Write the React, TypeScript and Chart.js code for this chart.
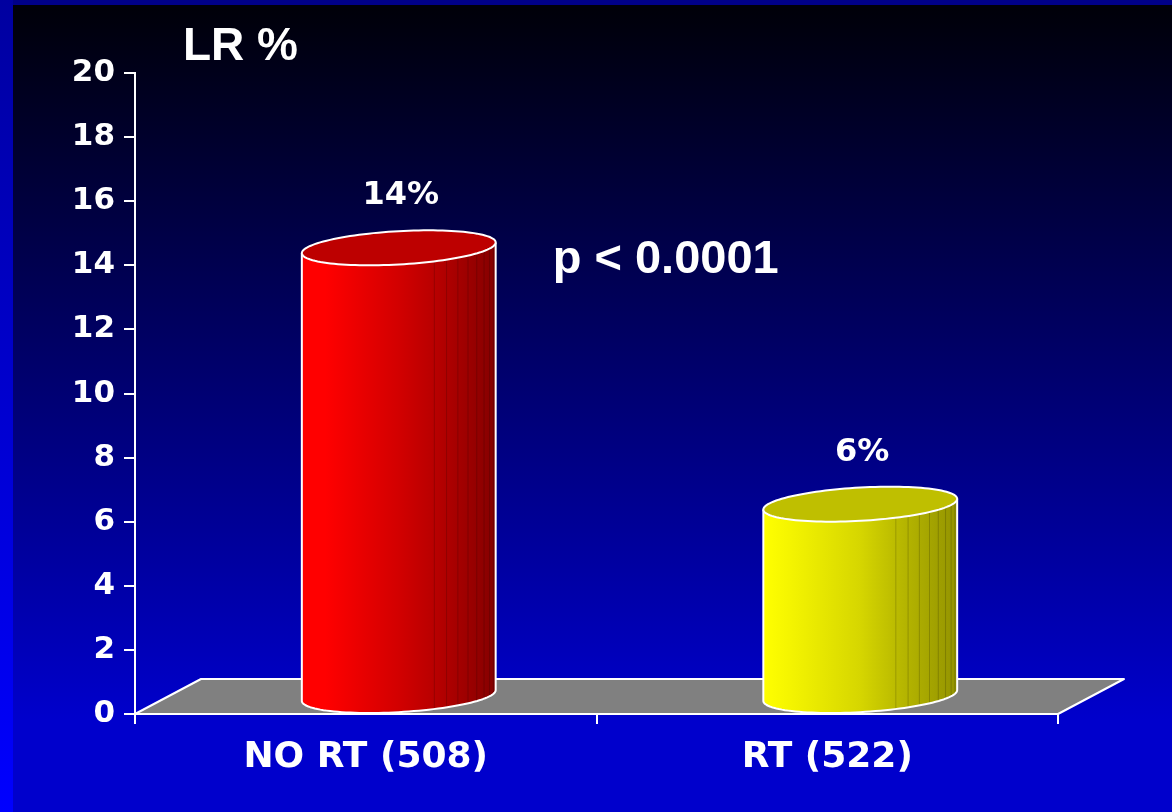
import React, { useEffect, useRef } from 'react';
import Chart from 'chart.js/auto';

// chart data
const categories = ['NO RT (508)', 'RT (522)'];
const lrValues = [14, 6];
const valueLabels = ['14%', '6%'];
const yMin = 0;
const yMax = 20;
const yStep = 2;
const axisTitle = 'LR %';
const pValueText = 'p < 0.0001';
const pValueAnchor = { index: 0.65, value: 13.76 };

// cylinder colours (left -> right shading) and lids
const bodyStops = [
  ['#ff0000', '#ff0000', '#d20000', '#b30000', '#840000'],
  ['#ffff00', '#f6f600', '#d6d600', '#b6b600', '#939300'],
];
const lidColors = ['#bd0000', '#bfbf00'];

const DEPTH_X = 66;
const DEPTH_Y = -35;

const pt = (cx: number, cy: number, R: number, Dx: number, Dy: number, t: number) =>
  [cx + R * Math.cos(t) + Dx * Math.sin(t), cy + Dy * Math.sin(t)];

const backgroundPlugin = {
  id: 'slideBackground',
  beforeDraw(chart: any) {
    const { ctx, width, height } = chart;
    ctx.save();
    const g = ctx.createLinearGradient(0, 5, 0, 720);
    g.addColorStop(0, '#000008');
    g.addColorStop(1, '#0000cc');
    ctx.fillStyle = g;
    ctx.fillRect(0, 0, width, height);
    const s = ctx.createLinearGradient(0, 0, 0, height);
    s.addColorStop(0, '#0000a0');
    s.addColorStop(1, '#0000ff');
    ctx.fillStyle = s;
    ctx.fillRect(0, 0, 13, height);
    ctx.fillStyle = '#000088';
    ctx.fillRect(13, 0, width - 13, 5);
    ctx.restore();
  },
};

const floorPlugin = {
  id: 'floor',
  beforeDatasetsDraw(chart: any) {
    const { ctx, chartArea } = chart;
    const { left, right, bottom } = chartArea;
    ctx.save();
    ctx.beginPath();
    ctx.moveTo(left, bottom);
    ctx.lineTo(right, bottom);
    ctx.lineTo(right + DEPTH_X, bottom + DEPTH_Y);
    ctx.lineTo(left + DEPTH_X, bottom + DEPTH_Y);
    ctx.closePath();
    ctx.fillStyle = '#808080';
    ctx.fill();
    ctx.strokeStyle = '#ffffff';
    ctx.lineWidth = 2;
    ctx.lineJoin = 'round';
    ctx.stroke();
    ctx.restore();
  },
};

const cylinderPlugin = {
  id: 'cylinders',
  afterDatasetsDraw(chart: any) {
    const { ctx } = chart;
    const meta = chart.getDatasetMeta(0);
    meta.data.forEach((bar: any, i: number) => {
      const { x, y, base, width } = bar.getProps(['x', 'y', 'base', 'width'], true);
      const cx = x + DEPTH_X / 2;
      const Dx = DEPTH_X * 0.45;
      const Dy = DEPTH_Y / 2;
      const half = width / 2;
      const R = Math.sqrt(half * half - Dx * Dx);
      const topY = y + Dy;
      const botY = base + Dy;
      const t0 = Math.atan2(Dx, R);
      const steps = 60;

      ctx.save();
      // body
      ctx.beginPath();
      let p = pt(cx, topY, R, Dx, Dy, t0 + Math.PI);
      ctx.moveTo(p[0], p[1]);
      for (let k = 0; k <= steps; k++) {
        const t = t0 + Math.PI + (Math.PI * k) / steps;
        p = pt(cx, botY, R, Dx, Dy, t);
        ctx.lineTo(p[0], p[1]);
      }
      for (let k = steps; k >= 0; k--) {
        const t = t0 + Math.PI + (Math.PI * k) / steps;
        p = pt(cx, topY, R, Dx, Dy, t);
        ctx.lineTo(p[0], p[1]);
      }
      ctx.closePath();
      const g = ctx.createLinearGradient(cx - half, 0, cx + half, 0);
      const stops = bodyStops[i];
      [0, 0.12, 0.5, 0.72, 1].forEach((o, j) => g.addColorStop(o, stops[j]));
      ctx.fillStyle = g;
      ctx.fill();

      // facet lines
      ctx.strokeStyle = 'rgba(0,0,0,0.18)';
      ctx.lineWidth = 1;
      for (let t = 5.4; t < t0 + 2 * Math.PI - 0.05; t += 0.14) {
        const a = pt(cx, topY, R, Dx, Dy, t);
        const b = pt(cx, botY, R, Dx, Dy, t);
        ctx.beginPath();
        ctx.moveTo(a[0], a[1]);
        ctx.lineTo(b[0], b[1]);
        ctx.stroke();
      }

      // outline of body
      ctx.strokeStyle = '#ffffff';
      ctx.lineWidth = 2;
      ctx.lineJoin = 'round';
      ctx.beginPath();
      p = pt(cx, topY, R, Dx, Dy, t0 + Math.PI);
      ctx.moveTo(p[0], p[1]);
      for (let k = 0; k <= steps; k++) {
        const t = t0 + Math.PI + (Math.PI * k) / steps;
        p = pt(cx, botY, R, Dx, Dy, t);
        ctx.lineTo(p[0], p[1]);
      }
      p = pt(cx, topY, R, Dx, Dy, t0);
      ctx.lineTo(p[0], p[1]);
      ctx.stroke();

      // lid
      ctx.beginPath();
      for (let k = 0; k <= steps * 2; k++) {
        const t = (Math.PI * k) / steps;
        p = pt(cx, topY, R, Dx, Dy, t);
        if (k === 0) ctx.moveTo(p[0], p[1]);
        else ctx.lineTo(p[0], p[1]);
      }
      ctx.closePath();
      ctx.fillStyle = lidColors[i];
      ctx.fill();
      ctx.stroke();

      // value label
      ctx.fillStyle = '#ffffff';
      ctx.font = 'bold 32px "DejaVu Sans"';
      ctx.textAlign = 'center';
      ctx.textBaseline = 'alphabetic';
      ctx.fillText(valueLabels[i], cx + 2, y - 61);
      ctx.restore();
    });
  },
};

const textPlugin = {
  id: 'slideText',
  afterDraw(chart: any) {
    const { ctx, chartArea, scales } = chart;
    ctx.save();
    ctx.fillStyle = '#ffffff';
    ctx.textBaseline = 'alphabetic';
    ctx.font = 'bold 46px Arial, "Liberation Sans", sans-serif';
    ctx.textAlign = 'left';
    ctx.fillText(axisTitle, chartArea.left + 48, chartArea.top - 13);
    ctx.font = 'bold 47px Arial, "Liberation Sans", sans-serif';
    ctx.textAlign = 'center';
    ctx.fillText(
      pValueText,
      scales.x.getPixelForValue(pValueAnchor.index),
      scales.y.getPixelForValue(pValueAnchor.value)
    );
    ctx.restore();
  },
};

const App: React.FC = () => {
  const canvasRef = useRef<HTMLCanvasElement>(null);

  useEffect(() => {
    if (!canvasRef.current) return;
    const ctx = canvasRef.current.getContext('2d');
    if (!ctx) return;

    const tickFont = { family: '"DejaVu Sans"', weight: 'bold' as const, size: 31 };

    const chart = new Chart(ctx, {
      type: 'bar',
      data: {
        labels: categories,
        datasets: [
          {
            label: 'LR %',
            data: lrValues,
            backgroundColor: 'rgba(0,0,0,0)',
            borderWidth: 0,
            barPercentage: 0.42,
            categoryPercentage: 1,
          },
        ],
      },
      options: {
        animation: false,
        responsive: true,
        maintainAspectRatio: false,
        events: [],
        layout: { padding: { top: 73, right: 114, left: 0, bottom: 0 } },
        plugins: {
          legend: { display: false },
          tooltip: { enabled: false },
        },
        scales: {
          x: {
            offset: true,
            grid: {
              offset: true,
              drawOnChartArea: false,
              color: '#ffffff',
              lineWidth: 2,
              tickLength: 10,
            },
            border: { color: '#ffffff', width: 2 },
            ticks: { color: '#ffffff', font: { ...tickFont, size: 36 }, padding: 12, maxRotation: 0 },
            afterFit: (s: any) => {
              s.height = 98;
            },
          },
          y: {
            min: yMin,
            max: yMax,
            grid: {
              drawOnChartArea: false,
              color: '#ffffff',
              lineWidth: 2,
              tickLength: 11,
            },
            border: { color: '#ffffff', width: 2 },
            ticks: { stepSize: yStep, color: '#ffffff', font: tickFont, padding: 9 },
            afterFit: (s: any) => {
              s.width = 135;
            },
          },
        },
      },
      plugins: [backgroundPlugin, floorPlugin, cylinderPlugin, textPlugin],
    });

    return () => chart.destroy();
  }, []);

  return (
    <div style={{ position: 'fixed', left: 0, top: 0, width: '100vw', height: '100vh' }}>
      <canvas ref={canvasRef} />
    </div>
  );
};

export default App;
